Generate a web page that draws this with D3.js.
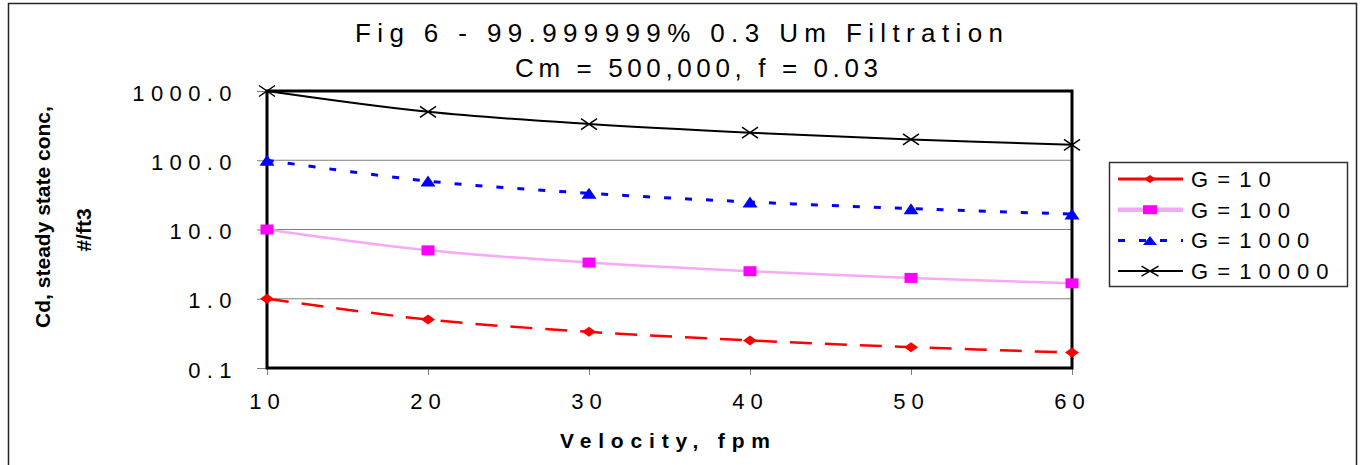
<!DOCTYPE html>
<html>
<head>
<meta charset="utf-8">
<script src="https://cdn.jsdelivr.net/npm/d3@7"></script>
<style>
  body { margin: 0; background: #fff; }
  text { font-family: Arial, "Liberation Sans", sans-serif; fill: #000; }
</style>
</head>
<body>
<div id="chart"></div>
<script>

// chart data
var velocity = [10, 20, 30, 40, 50, 60];
var g10    = [1.0, 0.5, 0.333, 0.25, 0.2, 0.167];
var g100   = [10, 5.0, 3.33, 2.5, 2.0, 1.67];
var g1000  = [100, 50, 33.3, 25, 20, 16.7];
var g10000 = [1000, 500, 333, 250, 200, 167];
var seriesNames = ["G = 10", "G = 100", "G = 1000", "G = 10000"];
var yTicks = [0.1, 1, 10, 100, 1000];
var xTicks = [10, 20, 30, 40, 50, 60];

// set the dimensions and margins of the plot area
var margin = {top: 91, left: 267},
    width = 1072 - 267,
    height = 368 - 91;

// series look
var styles = [
  {color: "#ff0000", width: 2.5, dash: "22,13", legendWidth: 3, legendDash: null, marker: "diamond", fill: "#ff0000"},
  {color: "#f7a8f7", width: 2.5, dash: null, legendWidth: 4.5, legendDash: null, marker: "square", fill: "#ff00ff"},
  {color: "#0000ff", width: 3, dash: "7,14", legendWidth: 3, legendDash: "7,14", marker: "triangle", fill: "#0000ff"},
  {color: "#000000", width: 2, dash: null, legendWidth: 2, legendDash: null, marker: "cross", fill: "none"}
];
var seriesValues = [g10, g100, g1000, g10000];

var svg = d3.select("#chart").append("svg")
    .attr("width", 1363)
    .attr("height", 465);

// outer chart border
svg.append("rect")
    .attr("x", 8.5).attr("y", 3.5)
    .attr("width", 1348).attr("height", 480)
    .attr("fill", "none")
    .attr("stroke", "#222")
    .attr("stroke-width", 1.5);

// title and subtitle
svg.append("text")
    .attr("x", 355).attr("y", 42)
    .attr("font-size", "26px")
    .attr("textLength", 648)
    .attr("lengthAdjust", "spacing")
    .text("Fig 6 - 99.999999% 0.3 Um Filtration");

svg.append("text")
    .attr("x", 515).attr("y", 77)
    .attr("font-size", "26px")
    .attr("textLength", 363)
    .attr("lengthAdjust", "spacing")
    .text("Cm = 500,000, f = 0.03");

var g = svg.append("g")
    .attr("transform", "translate(" + margin.left + "," + margin.top + ")");

// set the scales
var x = d3.scaleLinear().domain([10, 60]).range([0, width]);
var y = d3.scaleLog().domain([0.1, 1000]).range([height, 0]);

// gridlines
g.selectAll(".grid")
    .data(yTicks.slice(1, -1))
  .enter().append("line")
    .attr("x1", 0).attr("x2", width)
    .attr("y1", function(d) { return y(d); })
    .attr("y2", function(d) { return y(d); })
    .attr("stroke", "#808080")
    .attr("stroke-width", 1);

// Y axis
var yAxis = g.append("g")
    .call(d3.axisLeft(y).tickValues(yTicks).tickSize(10).tickPadding(19)
      .tickFormat(d3.format(".1f")));
yAxis.select(".domain").remove();
yAxis.selectAll(".tick line").attr("stroke", "#808080");
yAxis.selectAll(".tick text")
    .attr("font-size", "22px")
    .attr("letter-spacing", "6.4px")
    .attr("dy", "0.41em")
    .attr("font-family", null);

// X axis
var xAxis = g.append("g")
    .attr("transform", "translate(0," + height + ")")
    .call(d3.axisBottom(x).tickValues(xTicks).tickSize(7).tickPadding(18)
      .tickFormat(d3.format("d")));
xAxis.select(".domain").remove();
xAxis.selectAll(".tick line").attr("stroke", "#808080");
xAxis.selectAll(".tick text")
    .attr("font-size", "22px")
    .attr("letter-spacing", "6px")
    .attr("font-family", null);

// plot frame
g.append("rect")
    .attr("width", width).attr("height", height)
    .attr("fill", "none")
    .attr("stroke", "#000")
    .attr("stroke-width", 3);

// axis titles
svg.append("text")
    .attr("x", 560).attr("y", 448)
    .attr("font-size", "21px")
    .attr("font-weight", "bold")
    .attr("textLength", 210)
    .attr("lengthAdjust", "spacing")
    .text("Velocity, fpm");

svg.append("text")
    .attr("transform", "translate(50,217) rotate(-90)")
    .attr("text-anchor", "middle")
    .attr("font-size", "21px")
    .attr("font-weight", "bold")
    .text("Cd, steady state conc,");

svg.append("text")
    .attr("transform", "translate(91,230) rotate(-90)")
    .attr("text-anchor", "middle")
    .attr("font-size", "21px")
    .attr("font-weight", "bold")
    .text("#/ft3");

// marker shapes
function markerPath(type, w, h) {
  var a = w / 2, b = h / 2;
  if (type == "diamond") return "M" + (-a) + ",0L0," + (-b) + "L" + a + ",0L0," + b + "Z";
  if (type == "square") return "M" + (-a) + "," + (-b) + "H" + a + "V" + b + "H" + (-a) + "Z";
  if (type == "triangle") return "M" + (-a) + "," + b + "L0," + (-b) + "L" + a + "," + b + "Z";
  return "M" + (-a) + "," + (-b) + "L" + a + "," + b + "M" + (-a) + "," + b + "L" + a + "," + (-b);
}
var markerSize = {diamond: [14, 10], square: [13, 10], triangle: [15, 11], cross: [16, 11]};
var legendMarkerSize = {diamond: [12, 8], square: [14, 9], triangle: [14, 9], cross: [17, 10]};

// smoothed lines
var valueline = d3.line()
    .curve(d3.curveCatmullRom)
    .x(function(d) { return x(d.v); })
    .y(function(d) { return y(d.c); });

seriesValues.forEach(function(vals, i) {
  var st = styles[i];
  var data = vals.map(function(c, j) { return {v: velocity[j], c: c}; });

  g.append("path")
      .datum(data)
      .attr("fill", "none")
      .attr("stroke", st.color)
      .attr("stroke-width", st.width)
      .attr("stroke-dasharray", st.dash)
      .attr("d", valueline);

  g.selectAll(".m" + i)
      .data(data)
    .enter().append("path")
      .attr("transform", function(d) { return "translate(" + x(d.v) + "," + y(d.c) + ")"; })
      .attr("d", markerPath(st.marker, markerSize[st.marker][0], markerSize[st.marker][1]))
      .attr("fill", st.fill)
      .attr("stroke", st.marker == "cross" ? "#000" : "none")
      .attr("stroke-width", 1.5);
});

// legend
var legend = svg.append("g");
legend.append("rect")
    .attr("x", 1109.5).attr("y", 162.5)
    .attr("width", 238).attr("height", 124)
    .attr("fill", "#fff")
    .attr("stroke", "#333")
    .attr("stroke-width", 1.5);

seriesNames.forEach(function(name, i) {
  var st = styles[i];
  var cy = 179 + i * 30.7;
  legend.append("line")
      .attr("x1", 1118).attr("x2", 1183)
      .attr("y1", cy).attr("y2", cy)
      .attr("stroke", st.color)
      .attr("stroke-width", st.legendWidth)
      .attr("stroke-dasharray", st.legendDash);
  legend.append("path")
      .attr("transform", "translate(1150," + cy + ")")
      .attr("d", markerPath(st.marker, legendMarkerSize[st.marker][0], legendMarkerSize[st.marker][1]))
      .attr("fill", st.fill)
      .attr("stroke", st.marker == "cross" ? "#000" : "none")
      .attr("stroke-width", 1.5);
  legend.append("text")
      .attr("x", 1191).attr("y", cy + 8)
      .attr("font-size", "22px")
      .attr("letter-spacing", "7px")
      .attr("word-spacing", "-11px")
      .text(name);
});

</script>
</body>
</html>
